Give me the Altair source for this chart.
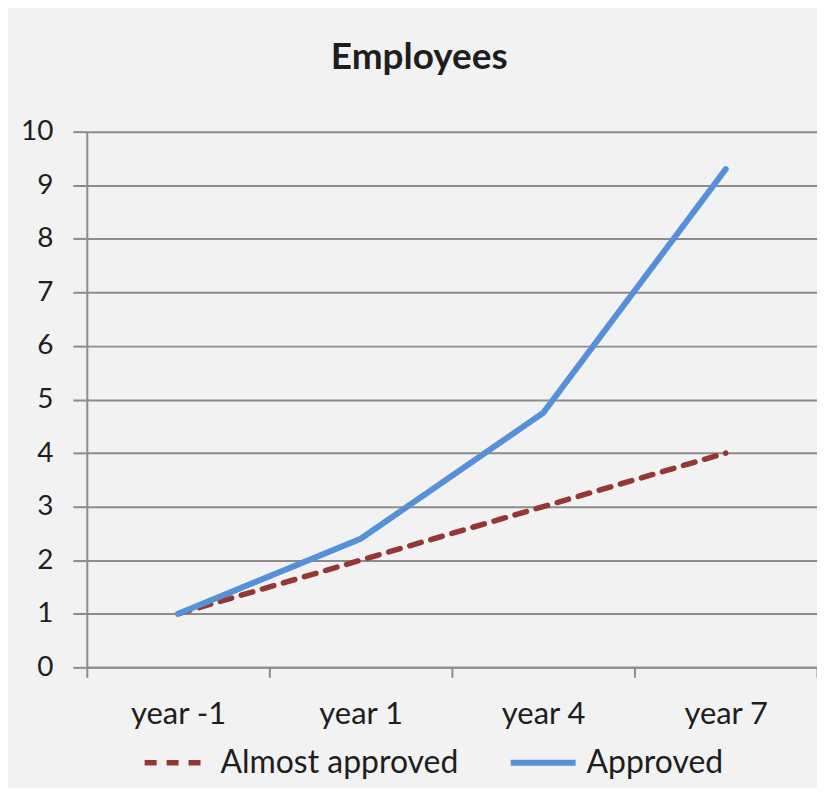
import altair as alt
import pandas as pd

categories = ["year -1", "year 1", "year 4", "year 7"]
almost_approved = [1, 2, 3, 4]
approved = [1, 2.4, 4.75, 9.3]
series_names = ["Almost approved", "Approved"]
series_colors = ["#953735", "#5590d8"]
y_ticks = list(range(0, 11))

rows = []
for c, v in zip(categories, almost_approved):
    rows.append({"year": c, "value": v, "series": series_names[0]})
for c, v in zip(categories, approved):
    rows.append({"year": c, "value": v, "series": series_names[1]})
df = pd.DataFrame(rows)

FONT = "Lato"
TEXT = "#1e1e1e"
GRID = "#8c8c8c"

legend = alt.Legend(
    title=None,
    orient="none",
    legendX=55,
    legendY=597,
    direction="horizontal",
    symbolType="stroke",
    symbolSize=4225,
    labelFont=FONT,
    labelFontSize=32,
    labelColor=TEXT,
    labelOffset=8,
    labelLimit=0,
    columnPadding=40,
    padding=0,
)

chart = (
    alt.Chart(df)
    .mark_line(strokeCap="round", strokeJoin="round")
    .encode(
        x=alt.X(
            "year:N",
            sort=categories,
            scale=alt.Scale(type="band", paddingInner=0, paddingOuter=0),
            axis=alt.Axis(
                title=None,
                labelAngle=0,
                tickBand="extent",
                ticks=True,
                tickSize=10,
                tickColor=GRID,
                tickWidth=2,
                domainColor=GRID,
                domainWidth=2,
                labelPadding=22,
                labelFont=FONT,
                labelFontSize=31,
                labelColor=TEXT,
                grid=False,
            ),
        ),
        y=alt.Y(
            "value:Q",
            scale=alt.Scale(domain=[0, 10], nice=False),
            axis=alt.Axis(
                title=None,
                values=y_ticks,
                grid=True,
                gridColor=GRID,
                gridWidth=2,
                tickSize=14,
                tickColor=GRID,
                tickWidth=2,
                domainColor=GRID,
                domainWidth=2,
                labelPadding=20,
                labelFont=FONT,
                labelFontSize=28,
                labelColor=TEXT,
            ),
        ),
        color=alt.Color(
            "series:N",
            scale=alt.Scale(domain=series_names, range=series_colors),
            legend=legend,
        ),
        strokeDash=alt.StrokeDash(
            "series:N",
            scale=alt.Scale(domain=series_names, range=[[12, 10], [1, 0]]),
            legend=legend,
        ),
        strokeWidth=alt.StrokeWidth(
            "series:N",
            scale=alt.Scale(domain=series_names, range=[5.5, 6]),
            legend=legend,
        ),
    )
    .properties(
        width=732,
        height=537,
        title=alt.TitleParams(
            "Employees",
            font=FONT,
            fontSize=37,
            fontWeight="bold",
            color=TEXT,
            anchor="middle",
            frame="bounds",
            baseline="alphabetic",
            offset=12,
        ),
        background="#f2f2f2",
        padding={"left": 79, "top": 123, "right": 0, "bottom": 120},
        autosize=alt.AutoSizeParams(type="none"),
    )
    .configure_view(stroke=None)
)

chart.save("out.html", embed_options={"renderer": "svg", "actions": False})
